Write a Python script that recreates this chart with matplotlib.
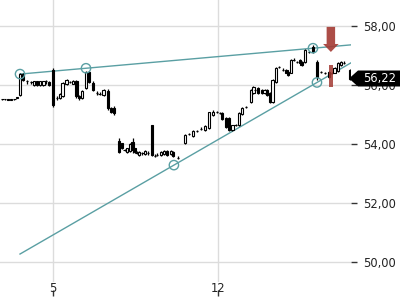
import numpy as np
import matplotlib
matplotlib.use("Agg")
import matplotlib.pyplot as plt
import matplotlib.transforms as mtransforms
from matplotlib.patches import FancyArrow, Polygon
from matplotlib.ticker import FuncFormatter

# candle data (x in days of month)
days = [2.84, 2.96, 3.09, 3.22, 3.35, 3.47, 3.60, 3.73, 3.90, 4.07, 4.19, 4.32, 4.45, 4.58, 4.70, 4.83,
        5.00, 5.17, 5.30, 5.42, 5.59, 5.72, 5.85, 5.98, 6.10, 6.23, 6.40, 6.53, 6.70, 6.87, 6.99, 7.16,
        7.33, 7.46, 7.59, 7.80, 7.93, 8.05, 8.14, 8.27, 8.39, 8.48, 8.56, 8.65, 8.78, 8.90, 9.03, 9.20,
        9.33, 9.41, 9.58, 9.71, 9.84, 10.01, 10.09, 10.30, 10.60, 10.77, 10.94, 11.11, 11.28, 11.45,
        11.62, 11.79, 11.96, 12.09, 12.17, 12.34, 12.47, 12.60, 12.76, 12.89, 13.02, 13.19, 13.40,
        13.49, 13.57, 13.70, 13.87, 13.99, 14.08, 14.21, 14.33, 14.46, 14.59, 14.76, 14.89, 14.97,
        15.10, 15.22, 15.35, 15.48, 15.56, 15.69, 15.86, 16.03, 16.20, 16.37, 16.54, 16.71, 16.84,
        16.96, 17.09, 17.22, 17.35, 17.60]
opens = [55.52, 55.51, 55.52, 55.50, 55.52, 55.56, 55.66, 56.37, 56.14, 56.10, 56.00, 56.12, 55.99, 56.00,
         56.12, 56.10, 56.51, 55.56, 55.56, 55.63, 56.03, 56.10, 56.05, 56.12, 55.63, 55.56, 55.90, 56.44,
         56.07, 55.73, 55.70, 55.66, 55.80, 55.22, 55.22, 54.10, 54.03, 53.80, 53.73, 53.76, 54.07, 53.86,
         53.70, 53.63, 53.68, 53.66, 53.70, 54.64, 53.60, 53.63, 53.63, 53.66, 53.76, 53.66, 53.73, 53.53,
         54.03, 54.34, 54.27, 54.45, 54.52, 54.47, 54.54, 54.98, 55.08, 55.05, 55.05, 54.88, 54.88, 54.47,
         54.64, 54.64, 55.00, 55.25, 55.42, 55.73, 55.83, 55.90, 55.83, 55.73, 55.83, 55.73, 55.42, 56.10,
         56.61, 56.51, 56.51, 56.44, 56.41, 56.85, 56.78, 56.85, 56.78, 56.78, 57.12, 57.29, 56.78, 56.44,
         56.41, 56.44, 56.41, 56.41, 56.47, 56.68, 56.75, 56.51]
highs = [55.53, 55.53, 55.53, 55.53, 55.53, 55.60, 56.40, 56.40, 56.17, 56.14, 56.14, 56.14, 56.14, 56.15,
         56.17, 56.14, 56.58, 55.63, 55.72, 56.10, 56.20, 56.14, 56.17, 56.17, 55.66, 55.83, 56.47, 56.47,
         56.12, 55.80, 55.75, 55.85, 55.85, 55.25, 55.30, 54.20, 54.05, 53.83, 53.88, 54.03, 54.20, 53.88,
         53.76, 53.76, 53.73, 53.78, 53.76, 54.66, 53.66, 53.68, 53.76, 53.78, 53.80, 53.78, 53.76, 53.58,
         54.34, 54.37, 54.47, 54.49, 54.56, 54.64, 55.10, 55.15, 55.12, 55.10, 55.08, 54.90, 54.91, 54.66,
         54.68, 55.08, 55.25, 55.30, 55.86, 55.96, 55.88, 55.93, 55.86, 55.86, 55.86, 55.76, 56.20, 56.61,
         56.65, 56.56, 56.54, 56.47, 56.88, 56.90, 56.82, 56.88, 56.80, 57.22, 57.15, 57.36, 56.85, 56.48,
         56.45, 56.47, 56.44, 56.61, 56.78, 56.80, 56.80, 56.55]
lows = [55.50, 55.50, 55.49, 55.49, 55.50, 55.55, 55.63, 56.14, 56.05, 56.03, 55.98, 55.97, 55.97, 55.98,
        56.05, 55.98, 55.25, 55.49, 55.54, 55.60, 56.00, 56.07, 56.03, 55.56, 55.49, 55.53, 55.88, 56.07,
        55.80, 55.66, 55.66, 55.63, 55.15, 55.05, 54.98, 53.70, 53.83, 53.77, 53.70, 53.73, 53.70, 53.70,
        53.66, 53.60, 53.63, 53.63, 53.63, 53.60, 53.56, 53.58, 53.60, 53.63, 53.60, 53.63, 53.56, 53.50,
        54.00, 54.30, 54.24, 54.42, 54.49, 54.45, 54.52, 54.96, 55.05, 55.02, 54.83, 54.55, 54.44, 54.44,
        54.60, 54.61, 54.98, 55.22, 55.40, 55.70, 55.80, 55.70, 55.70, 55.70, 55.63, 55.40, 55.40, 56.08,
        56.57, 56.47, 56.39, 56.31, 56.39, 56.81, 56.74, 56.73, 56.66, 56.75, 57.09, 57.09, 56.17, 56.40,
        56.37, 56.24, 56.37, 56.39, 56.45, 56.66, 56.70, 56.17]
closes = [55.51, 55.52, 55.50, 55.52, 55.51, 55.58, 56.37, 56.17, 56.14, 56.10, 56.12, 55.99, 56.12, 56.13,
          56.12, 56.00, 55.32, 55.56, 55.70, 56.07, 56.17, 56.10, 56.14, 55.63, 55.56, 55.80, 56.44, 56.10,
          55.83, 55.73, 55.70, 55.83, 55.22, 55.08, 55.05, 53.73, 53.86, 53.80, 53.86, 54.00, 53.80, 53.73,
          53.70, 53.73, 53.68, 53.76, 53.70, 53.63, 53.60, 53.63, 53.73, 53.76, 53.63, 53.76, 53.60, 53.53,
          54.31, 54.34, 54.44, 54.45, 54.52, 54.61, 55.08, 55.10, 55.08, 55.05, 54.85, 54.58, 54.47, 54.64,
          54.64, 55.05, 55.22, 55.25, 55.83, 55.93, 55.83, 55.73, 55.73, 55.83, 55.66, 55.42, 56.17, 56.58,
          56.61, 56.51, 56.41, 56.34, 56.85, 56.85, 56.78, 56.75, 56.68, 57.19, 57.12, 57.12, 56.27, 56.44,
          56.41, 56.27, 56.41, 56.58, 56.75, 56.78, 56.75, 56.22]

# trend lines: (start day, end day), (start price, end price)
upper_line = ([3.60, 17.64], [56.37, 57.36])
lower_line = ([3.60, 17.64], [50.27, 56.75])
upper_touch_days = [3.60, 6.40, 16.03]
lower_touch_days = [10.13, 16.20]

# sell signal
signal_day = 16.79
signal_top = 57.97
signal_tip = 57.12
bar_day = 16.78
bar_range = (55.93, 56.68)

last_price = 56.22
x_ticks = [5, 12]
y_ticks = [50, 52, 54, 56, 58]

teal = "#5a9fa3"
red = "#a33a33"

fig = plt.figure(figsize=(4, 3), dpi=100)
ax = fig.add_axes([0, 0.06, 0.8775, 0.94])
ax.set_xlim(2.751, 17.644)
ax.set_ylim(49.322, 58.881)

for s in ax.spines.values():
    s.set_visible(False)
ax.grid(True, color="#dcdcdc", linewidth=1)
ax.set_axisbelow(True)

# trend lines and touch circles
ax.plot(upper_line[0], upper_line[1], color=teal, lw=1, zorder=2)
ax.plot(lower_line[0], lower_line[1], color=teal, lw=1, zorder=2)
up_y = np.interp(upper_touch_days, upper_line[0], upper_line[1])
lo_y = np.interp(lower_touch_days, lower_line[0], lower_line[1])
ax.scatter(upper_touch_days, up_y, s=45, facecolors="none", edgecolors=teal, linewidths=1, zorder=5)
ax.scatter(lower_touch_days, lo_y, s=45, facecolors="none", edgecolors=teal, linewidths=1, zorder=5)

# candles
o = np.array(opens)
c = np.array(closes)
up = c >= o
ax.vlines(days, lows, highs, color="black", lw=0.9, zorder=3)
ax.bar(days, c - o, bottom=o, width=0.12,
       color=np.where(up, "white", "black"), edgecolor="black", linewidth=0.8, zorder=4)

# signal marks
arrow = FancyArrow(signal_day, signal_top, 0, signal_tip - signal_top, width=0.36,
                   head_width=0.66, head_length=0.27, length_includes_head=True,
                   color=red, alpha=0.9, lw=0, zorder=6)
ax.add_patch(arrow)
ax.bar([bar_day], [bar_range[1] - bar_range[0]], bottom=bar_range[0], width=0.17,
       color=red, alpha=0.85, lw=0, zorder=6)

# axes
ax.set_xticks(x_ticks)
ax.set_yticks(y_ticks)
ax.yaxis.tick_right()
ax.yaxis.set_major_formatter(FuncFormatter(lambda v, p: f"{v:.2f}".replace(".", ",")))
ax.tick_params(axis="y", direction="out", length=4, width=1, color="#333333",
               labelsize=8.3, pad=5, labelcolor="#222222")
ax.tick_params(axis="x", length=0, labelsize=8.3, pad=0, labelcolor="#222222")

sec = ax.secondary_xaxis(-0.03)
sec.set_xticks(x_ticks)
sec.tick_params(axis="x", direction="out", length=4, width=1, color="#333333", labelbottom=False)
sec.spines["bottom"].set_visible(False)

# last price label: black tag with a pointed left side
trans = mtransforms.blended_transform_factory(ax.transAxes, ax.transData)
half = 8 / 29.5
tag = Polygon([(349 / 351, last_price), (358 / 351, last_price + half), (1.15, last_price + half),
               (1.15, last_price - half), (358 / 351, last_price - half)],
              closed=True, transform=trans, fc="black", ec="none", clip_on=False, zorder=10)
ax.add_patch(tag)
ax.text(363 / 351, last_price, f"{last_price:.2f}".replace(".", ","), transform=trans,
        ha="left", va="center", fontsize=8.3, color="white", zorder=11, clip_on=False)

fig.savefig("out.png", dpi=100)
